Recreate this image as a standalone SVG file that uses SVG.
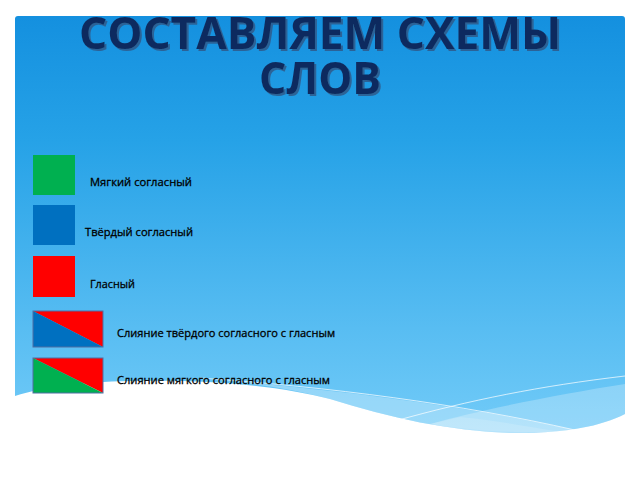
<svg xmlns="http://www.w3.org/2000/svg" width="640" height="480" viewBox="0 0 640 480">
<defs>
<linearGradient id="bg" x1="0" y1="0" x2="0" y2="1">
<stop offset="0" stop-color="#1490df"/>
<stop offset="0.3" stop-color="#26a2e7"/>
<stop offset="0.75" stop-color="#58bdf2"/>
<stop offset="1" stop-color="#72cbf8"/>
</linearGradient>
<filter id="shadow" x="-5%" y="-20%" width="110%" height="140%">
<feDropShadow dx="2" dy="2" stdDeviation="0.6" flood-color="#2f5a8a" flood-opacity="0.85"/>
</filter>
<style>
.title{font-family:"Open Sans","DejaVu Sans",sans-serif;font-weight:bold;font-size:45px;text-anchor:middle;fill:#0e2c5f;filter:url(#shadow)}
.lbl{font-family:"Open Sans","Liberation Sans",sans-serif;font-size:11.5px;fill:#000;stroke:#000;stroke-width:0.3}
.sq{stroke:none}
.fr{stroke:#4f6fa3;stroke-width:1}
</style>
</defs>
<rect width="640" height="480" fill="#ffffff"/>
<path id="panel" d="M15,19 Q15,16 18,16 H622 Q625,16 625,19 V414 C600,427 560,434 510,433 C450,431 390,418 330,399 C280,386 210,379 130,381 C80,382 45,387 15,396 Z" fill="url(#bg)"/>
<g id="waves">
<path d="M200,379 C330,388 460,405 575,430 C555,433 530,433 510,433 C450,431 390,418 330,399 C290,388 245,382 200,379 Z" fill="#ffffff" opacity="0.3"/>
<path d="M625,384 C560,394 480,410 430,424 C460,430 490,433 510,433 C560,434 600,427 625,414 Z" fill="#ffffff" opacity="0.25"/>
<path d="M430,424 C480,432 520,433 560,432 C520,425 490,420 460,417 Z" fill="#ffffff" opacity="0.15"/>
<path d="M200,378 C330,387 460,404 575,430" fill="none" stroke="#ffffff" stroke-width="1" opacity="0.7"/>
<path d="M395,421 C470,400 540,386 625,376" fill="none" stroke="#ffffff" stroke-width="1" opacity="0.7"/>
</g>
<g id="title">
<text class="title" x="320" y="49" textLength="482" lengthAdjust="spacingAndGlyphs">СОСТАВЛЯЕМ СХЕМЫ</text>
<text class="title" x="320" y="94" textLength="122" lengthAdjust="spacingAndGlyphs">СЛОВ</text>
</g>
<g id="soft">
<rect class="sq" x="33" y="155" width="42" height="40" fill="#00b050"/>
<text class="lbl" x="90" y="186" textLength="102" lengthAdjust="spacingAndGlyphs">Мягкий согласный</text>
</g>
<g id="hard">
<rect class="sq" x="33" y="205" width="42" height="40" fill="#0070c0"/>
<text class="lbl" x="85" y="236" textLength="108" lengthAdjust="spacingAndGlyphs">Твёрдый согласный</text>
</g>
<g id="vowel">
<rect class="sq" x="33" y="256" width="42" height="41" fill="#ff0000"/>
<text class="lbl" x="90" y="288" textLength="45" lengthAdjust="spacingAndGlyphs">Гласный</text>
</g>
<g id="hard-fusion">
<polygon points="33,311 103,311 103,347" fill="#ff0000"/>
<polygon points="33,311 103,347 33,347" fill="#0070c0"/>
<rect class="fr" x="33" y="311" width="70" height="36" fill="none"/>
<text class="lbl" x="117" y="337" textLength="218" lengthAdjust="spacingAndGlyphs">Слияние твёрдого согласного с гласным</text>
</g>
<g id="soft-fusion">
<polygon points="33,358 103,358 103,393" fill="#ff0000"/>
<polygon points="33,358 103,393 33,393" fill="#00b050"/>
<rect class="fr" x="33" y="358" width="70" height="35" fill="none"/>
<text class="lbl" x="117" y="384" textLength="213" lengthAdjust="spacingAndGlyphs">Слияние мягкого согласного с гласным</text>
</g>
<g id="connectors"></g>
</svg>
